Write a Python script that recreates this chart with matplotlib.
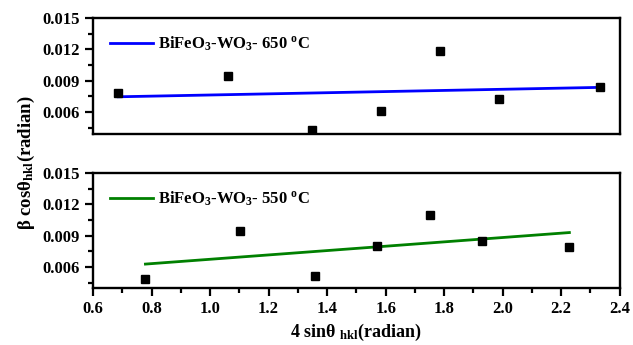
import matplotlib
matplotlib.use("Agg")
import matplotlib.pyplot as plt
from matplotlib.ticker import MultipleLocator, FormatStrFormatter

plt.rcParams['font.family'] = 'Liberation Serif'
plt.rcParams['font.weight'] = 'bold'
plt.rcParams['axes.labelweight'] = 'bold'
plt.rcParams['mathtext.fontset'] = 'custom'
plt.rcParams['mathtext.rm'] = 'Liberation Serif:bold'
plt.rcParams['mathtext.it'] = 'Liberation Serif:bold'
plt.rcParams['mathtext.bf'] = 'Liberation Serif:bold'

# BiFeO3-WO3 650 C
x650 = [0.686, 1.062, 1.348, 1.583, 1.786, 1.986, 2.331]
y650 = [0.00784, 0.00948, 0.00426, 0.0061, 0.0118, 0.00726, 0.00842]
fit650_x = [0.686, 2.331]
fit650_y = [0.00745, 0.00835]

# BiFeO3-WO3 550 C
x550 = [0.779, 1.103, 1.359, 1.569, 1.752, 1.928, 2.228]
y550 = [0.00484, 0.00948, 0.00513, 0.00803, 0.01094, 0.00852, 0.00794]
fit550_x = [0.779, 2.228]
fit550_y = [0.00629, 0.0093]

fig = plt.figure(figsize=(6.33, 3.45), dpi=100)
axTop = fig.add_axes([0.147, 0.612, 0.832, 0.336])
axBot = fig.add_axes([0.147, 0.165, 0.832, 0.334])


def style(ax):
    for s in ax.spines.values():
        s.set_linewidth(1.7)
    ax.set_xlim(0.6, 2.4)
    ax.yaxis.set_major_locator(MultipleLocator(0.003))
    ax.yaxis.set_minor_locator(MultipleLocator(0.0015))
    ax.xaxis.set_major_locator(MultipleLocator(0.2))
    ax.xaxis.set_minor_locator(MultipleLocator(0.1))
    ax.tick_params(which='major', direction='out', length=6, width=1.6, labelsize=12)
    ax.tick_params(which='minor', direction='out', length=3.5, width=1.6)
    ax.yaxis.set_major_formatter(FormatStrFormatter('%.3f'))


style(axTop)
style(axBot)

axTop.set_ylim(0.0039, 0.015)
axTop.plot(fit650_x, fit650_y, color='#0000ff', lw=2,
           label=r'BiFeO$_3$-WO$_3$- 650 $^{\mathrm{o}}$C')
axTop.plot(x650, y650, 's', color='black', ms=5.5)
axTop.tick_params(axis='x', which='both', bottom=False, labelbottom=False)

axBot.set_ylim(0.004, 0.015)
axBot.plot(fit550_x, fit550_y, color='#008000', lw=2,
           label=r'BiFeO$_3$-WO$_3$- 550 $^{\mathrm{o}}$C')
axBot.plot(x550, y550, 's', color='black', ms=5.5)

for ax in (axTop, axBot):
    ax.legend(loc='upper left', frameon=False, fontsize=12, handlelength=2.6,
              handletextpad=0.3, borderaxespad=0.6)

axBot.set_xlabel(r'4 sin$\theta$ $_{\mathrm{hkl}}$(radian)', fontsize=13, labelpad=3)
fig.text(0.042, 0.53, r'$\beta$ cos$\theta_{\mathrm{hkl}}$(radian)', rotation=90,
         fontsize=13.5, fontweight='bold', ha='center', va='center')

fig.savefig('out.png', dpi=100)
